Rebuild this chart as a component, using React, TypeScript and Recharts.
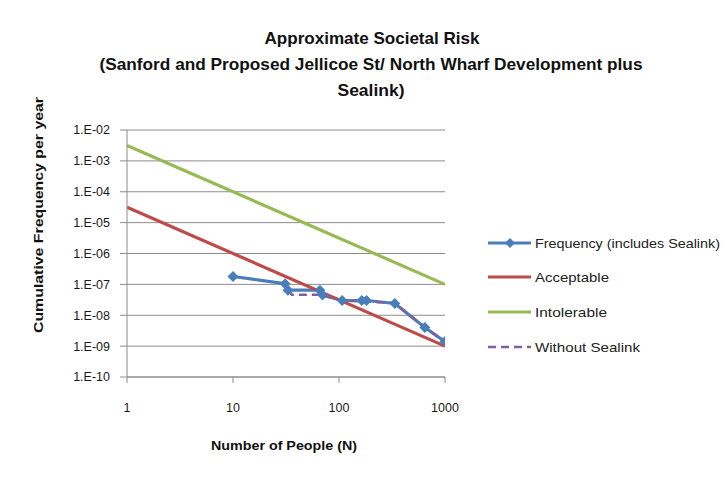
import { LineChart, Line, XAxis, YAxis, CartesianGrid } from "recharts";

// N values (number of people) and cumulative frequencies per year
const peopleTicks = [1, 10, 100, 1000];
const freqTicks = [1e-2, 1e-3, 1e-4, 1e-5, 1e-6, 1e-7, 1e-8, 1e-9, 1e-10];

const frequencyN = [10, 31, 33, 66, 70, 107, 164, 182, 336, 646, 1000];
const frequencyF = [1.8e-7, 1.05e-7, 6.5e-8, 6.5e-8, 4.5e-8, 3e-8, 3e-8, 3e-8, 2.4e-8, 4e-9, 1.4e-9];

const withoutN = [33, 36, 66, 107, 164, 182, 336, 646, 1000];
const withoutF = [6.5e-8, 4.6e-8, 4.6e-8, 3e-8, 2.8e-8, 2.8e-8, 2.5e-8, 4e-9, 1.4e-9];

const acceptableN = [1, 1000];
const acceptableF = [3.16e-5, 1e-9];

const intolerableN = [1, 1000];
const intolerableF = [3.16e-3, 1e-7];

const legendItems = ["Frequency (includes Sealink)", "Acceptable", "Intolerable", "Without Sealink"];

const toPoints = (n: number[], f: number[]) => n.map((v, i) => ({ n: v, f: f[i] }));

const BLUE = "#4A7EBB";
const RED = "#BE4B48";
const GREEN = "#98B954";
const PURPLE = "#7D60A0";
const FONT = "'Liberation Sans', Arial, sans-serif";

const fmtFreq = (v: number) => {
  const e = Math.round(-Math.log10(v));
  return `1.E-${String(e).padStart(2, "0")}`;
};

const Diamond = (props: any) => {
  const { cx, cy, key } = props;
  if (cx == null || cy == null) return <g key={key} />;
  const s = 5.5;
  return (
    <path
      key={key}
      d={`M${cx},${cy - s} L${cx + s},${cy} L${cx},${cy + s} L${cx - s},${cy} Z`}
      fill={BLUE}
    />
  );
};

const sheetRows = [25, 55, 85, 110, 140, 168, 197, 226, 255, 284, 313, 342, 370, 399, 428, 457];
const sheetCols = [167, 297, 408, 520, 645];

export default function App() {
  const legendY = [243, 277, 312, 347];
  const legendColors = [BLUE, RED, GREEN, PURPLE];
  const legendWidths = [185, 74, 72, 105];

  return (
    <div style={{ position: "relative", width: 720, height: 469 }}>
      {/* spreadsheet cells behind the chart */}
      {sheetRows.map((y) => (
        <div key={`r${y}`} style={{ position: "absolute", left: -8, top: y - 8, width: 7, height: 1, background: "#d0d7e5" }} />
      ))}
      {sheetCols.map((x) => (
        <div key={`c${x}`} style={{ position: "absolute", left: x - 8, top: -8, width: 1, height: 7, background: "#d0d7e5" }} />
      ))}
      <div style={{ position: "absolute", left: -1, top: -1, width: 730, height: 480, borderLeft: "1px solid #8c8c8c", borderTop: "1px solid #8c8c8c", background: "#fff" }} />

      <div style={{ position: "absolute", left: 0, top: 0 }}>
        <LineChart width={720} height={469} margin={{ top: 122, right: 283, bottom: 40, left: 19 }}>
          <CartesianGrid vertical={false} stroke="#8c8c8c" />
          <XAxis
            type="number"
            dataKey="n"
            scale="log"
            domain={[1, 1000]}
            ticks={peopleTicks}
            interval={0}
            allowDataOverflow
            height={60}
            tickSize={6}
            tickMargin={20}
            axisLine={{ stroke: "#8c8c8c" }}
            tickLine={{ stroke: "#8c8c8c" }}
            tick={{ fill: "#1a1a1a", fontSize: 12.5, fontFamily: FONT }}
          />
          <YAxis
            type="number"
            dataKey="f"
            scale="log"
            domain={[1e-10, 1e-2]}
            ticks={freqTicks}
            interval={0}
            allowDataOverflow
            width={100}
            tickSize={7}
            tickMargin={10}
            tickFormatter={fmtFreq}
            axisLine={{ stroke: "#8c8c8c" }}
            tickLine={{ stroke: "#8c8c8c" }}
            tick={{ fill: "#1a1a1a", fontSize: 12.5, fontFamily: FONT }}
          />
          <Line
            data={toPoints(frequencyN, frequencyF)}
            dataKey="f"
            stroke={BLUE}
            strokeWidth={3.2}
            dot={Diamond}
            activeDot={false}
            isAnimationActive={false}
          />
          <Line
            data={toPoints(acceptableN, acceptableF)}
            dataKey="f"
            stroke={RED}
            strokeWidth={3.2}
            dot={false}
            activeDot={false}
            isAnimationActive={false}
          />
          <Line
            data={toPoints(intolerableN, intolerableF)}
            dataKey="f"
            stroke={GREEN}
            strokeWidth={3.2}
            dot={false}
            activeDot={false}
            isAnimationActive={false}
          />
          <Line
            data={toPoints(withoutN, withoutF)}
            dataKey="f"
            stroke={PURPLE}
            strokeWidth={2.5}
            strokeDasharray="8 5"
            dot={false}
            activeDot={false}
            isAnimationActive={false}
          />
        </LineChart>
      </div>

      {/* titles, axis labels and legend, in page coordinates */}
      <svg
        width={728}
        height={477}
        style={{ position: "absolute", left: -8, top: -8, pointerEvents: "none" }}
        fontFamily={FONT}
      >
        <g fontWeight="bold" fontSize={17} fill="#111" textAnchor="middle">
          <text x={372} y={44} textLength={215} lengthAdjust="spacingAndGlyphs">
            Approximate Societal Risk
          </text>
          <text x={371} y={70} textLength={543} lengthAdjust="spacingAndGlyphs">
            (Sanford and Proposed Jellicoe St/ North Wharf Development plus
          </text>
          <text x={371} y={96} textLength={67} lengthAdjust="spacingAndGlyphs">
            Sealink)
          </text>
        </g>
        <text
          x={284}
          y={450}
          fontWeight="bold"
          fontSize={13}
          fill="#111"
          textAnchor="middle"
          textLength={146}
          lengthAdjust="spacingAndGlyphs"
        >
          Number of People (N)
        </text>
        <text
          x={38}
          y={215}
          transform="rotate(-90 38 215)"
          fontWeight="bold"
          fontSize={13}
          fill="#111"
          textAnchor="middle"
          dominantBaseline="central"
          textLength={236}
          lengthAdjust="spacingAndGlyphs"
        >
          Cumulative Frequency per year
        </text>
        {legendItems.map((label, i) => (
          <g key={label}>
            <line
              x1={488}
              x2={531}
              y1={legendY[i]}
              y2={legendY[i]}
              stroke={legendColors[i]}
              strokeWidth={i === 3 ? 2.5 : 3}
              strokeDasharray={i === 3 ? "8 5" : undefined}
            />
            {i === 0 && (
              <path
                d={`M510,${legendY[i] - 5} L515,${legendY[i]} L510,${legendY[i] + 5} L505,${legendY[i]} Z`}
                fill={BLUE}
              />
            )}
            <text
              x={535}
              y={legendY[i]}
              fontSize={13.5}
              fill="#222"
              dominantBaseline="central"
              textLength={legendWidths[i]}
              lengthAdjust="spacingAndGlyphs"
            >
              {label}
            </text>
          </g>
        ))}
      </svg>
    </div>
  );
}
